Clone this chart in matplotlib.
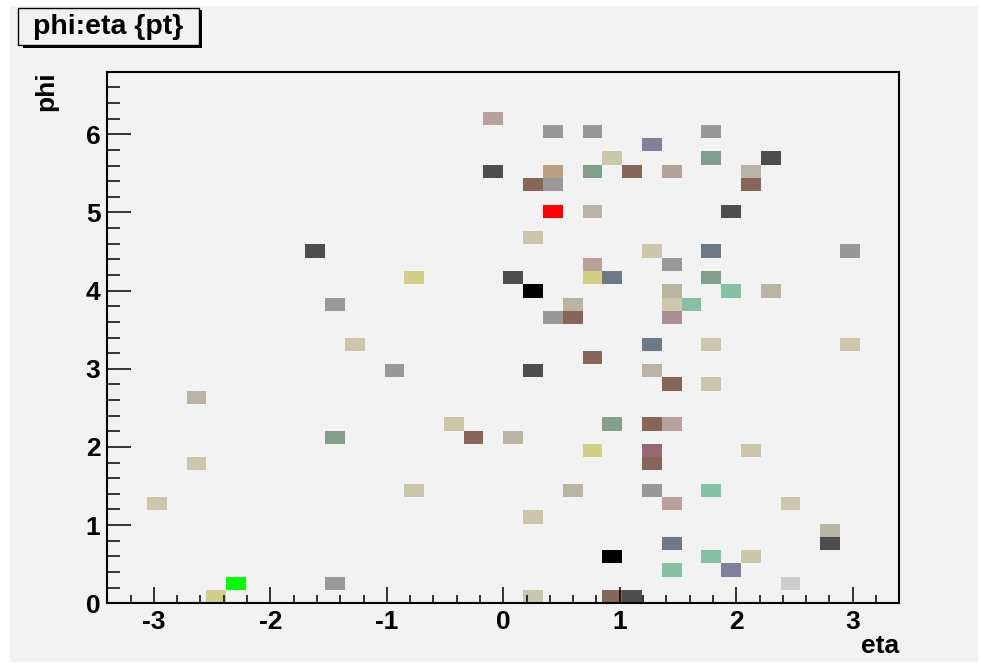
"""
phi:eta {pt} 2D histogram (ROOT COL style) redrawn with matplotlib.
"""

import numpy as np
import matplotlib

matplotlib.use("Agg")
import matplotlib.pyplot as plt
from matplotlib.colors import ListedColormap, BoundaryNorm
from matplotlib.patches import Rectangle
from matplotlib.ticker import MultipleLocator

# Binning of the histogram
ETA_RANGE = (-3.4, 3.4)
PHI_RANGE = (0.0, 6.8)
N_BINS = 40

# Filled cells: eta, phi (bin centres) and the colour of each cell
eta = [
    -0.085,
    0.425, 0.765, 1.785,
    1.275,
    0.935, 1.785, 2.295,
    -0.085, 0.425, 0.765, 1.105, 1.445, 2.125,
    0.255, 0.425, 2.125,
    0.425, 0.765, 1.955,
    0.255,
    -1.615, 1.275, 1.785, 2.975,
    0.765, 1.445,
    -0.765, 0.085, 0.765, 0.935, 1.785,
    0.255, 1.445, 1.955, 2.295,
    -1.445, 0.595, 1.445, 1.615,
    0.425, 0.595, 1.445,
    -1.275, 1.275, 1.785, 2.975,
    0.765,
    -0.935, 0.255, 1.275,
    1.445, 1.785,
    -2.635,
    -0.425, 0.935, 1.275, 1.445,
    -1.445, -0.255, 0.085,
    0.765, 1.275, 2.125,
    -2.635, 1.275,
    -0.765, 0.595, 1.275, 1.785,
    -2.975, 1.445, 2.465,
    0.255,
    2.805,
    1.445, 2.805,
    0.935, 1.785, 2.125,
    1.445, 1.955,
    -2.295, -1.445, 2.465,
    -2.465, 0.255, 0.935, 1.105,
]
phi = [
    6.205,
    6.035, 6.035, 6.035,
    5.865,
    5.695, 5.695, 5.695,
    5.525, 5.525, 5.525, 5.525, 5.525, 5.525,
    5.355, 5.355, 5.355,
    5.015, 5.015, 5.015,
    4.675,
    4.505, 4.505, 4.505, 4.505,
    4.335, 4.335,
    4.165, 4.165, 4.165, 4.165, 4.165,
    3.995, 3.995, 3.995, 3.995,
    3.825, 3.825, 3.825, 3.825,
    3.655, 3.655, 3.655,
    3.315, 3.315, 3.315, 3.315,
    3.145,
    2.975, 2.975, 2.975,
    2.805, 2.805,
    2.635,
    2.295, 2.295, 2.295, 2.295,
    2.125, 2.125, 2.125,
    1.955, 1.955, 1.955,
    1.785, 1.785,
    1.445, 1.445, 1.445, 1.445,
    1.275, 1.275, 1.275,
    1.105,
    0.935,
    0.765, 0.765,
    0.595, 0.595, 0.595,
    0.425, 0.425,
    0.255, 0.255, 0.255,
    0.085, 0.085, 0.085, 0.085,
]
cell_colors = [
    "#b8a39c",
    "#999999", "#999999", "#999999",
    "#80809c",
    "#ccc7ab", "#829e8c", "#4d4d4d",
    "#4d4d4d", "#bd9e82", "#829e8c", "#876657", "#b8a39c", "#bab5a3",
    "#876657", "#999999", "#876657",
    "#ff0000", "#bab5a3", "#4d4d4d",
    "#ccc7ab",
    "#4d4d4d", "#ccc7ab", "#6c7a86", "#999999",
    "#b8a39c", "#999999",
    "#d4cf87", "#4d4d4d", "#d4cf87", "#6c7a86", "#829e8c",
    "#000000", "#bab5a3", "#85c2a3", "#bab5a3",
    "#999999", "#bab5a3", "#ccc7ab", "#85c2a3",
    "#999999", "#876657", "#ab8f94",
    "#ccc7ab", "#6c7a86", "#ccc7ab", "#ccc7ab",
    "#876657",
    "#999999", "#4d4d4d", "#bab5a3",
    "#876657", "#ccc7ab",
    "#bab5a3",
    "#ccc7ab", "#829e8c", "#876657", "#b8a39c",
    "#829e8c", "#876657", "#bab5a3",
    "#d4cf87", "#94696f", "#ccc7ab",
    "#ccc7ab", "#876657",
    "#ccc7ab", "#bab5a3", "#999999", "#85c2a3",
    "#ccc7ab", "#b8a39c", "#ccc7ab",
    "#ccc7ab",
    "#bab5a3",
    "#6c7a86", "#4d4d4d",
    "#000000", "#85c2a3", "#ccc7ab",
    "#85c2a3", "#80809c",
    "#00ff00", "#999999", "#cccccc",
    "#d4cf87", "#ccc7ab", "#876657", "#4d4d4d",
]

TITLE = "phi:eta {pt}"
X_LABEL = "eta"
Y_LABEL = "phi"

BG = "#f2f2f2"
W, H = 981, 665


def fig_xy(px, py):
    """Pixel position (from top-left) -> figure fraction."""
    return px / W, 1 - py / H


plt.rcParams["font.family"] = ["Liberation Sans", "DejaVu Sans"]
plt.rcParams["axes.unicode_minus"] = False
fig = plt.figure(figsize=(W / 100, H / 100), dpi=100, facecolor="white")

# Canvas background (behind everything)
x0, y0 = fig_xy(10, 662)
fig.patches.append(
    Rectangle((x0, y0), 968 / W, 656 / H, transform=fig.transFigure,
              facecolor=BG, edgecolor="none", zorder=-10)
)

# Plot frame
left, right, top, bottom = 107.3, 899.3, 71.7, 603.3
ax = fig.add_axes([left / W, 1 - bottom / H, (right - left) / W, (bottom - top) / H])
ax.set_facecolor(BG)

# Build the 2D histogram from the entries; cell value = colour code
palette = list(dict.fromkeys(cell_colors))
codes = np.array([palette.index(c) + 1 for c in cell_colors], dtype=float)
xedges = np.linspace(*ETA_RANGE, N_BINS + 1)
yedges = np.linspace(*PHI_RANGE, N_BINS + 1)
grid, _, _ = np.histogram2d(eta, phi, bins=[xedges, yedges], weights=codes)
grid = np.ma.masked_equal(grid, 0)

cmap = ListedColormap(palette)
norm = BoundaryNorm(np.arange(0.5, len(palette) + 1.5), cmap.N)
ax.pcolormesh(xedges, yedges, grid.T, cmap=cmap, norm=norm, shading="flat")

ax.set_xlim(*ETA_RANGE)
ax.set_ylim(*PHI_RANGE)

# ROOT-like axes: inward ticks, bold labels
ax.xaxis.set_major_locator(MultipleLocator(1))
ax.xaxis.set_minor_locator(MultipleLocator(0.2))
ax.yaxis.set_major_locator(MultipleLocator(1))
ax.yaxis.set_minor_locator(MultipleLocator(0.2))
ax.tick_params(axis="x", which="major", direction="in", length=11.5, width=1.1,
               labelsize=19, pad=5)
ax.tick_params(axis="x", which="minor", direction="in", length=5.8, width=1.1)
ax.tick_params(axis="y", which="major", direction="in", length=17, width=1.1,
               labelsize=19, pad=5)
ax.tick_params(axis="y", which="minor", direction="in", length=9, width=1.1)
for lab in ax.get_xticklabels() + ax.get_yticklabels():
    lab.set_fontweight("bold")
for sp in ax.spines.values():
    sp.set_linewidth(1.5)

ax.set_xlabel(X_LABEL, fontsize=19, fontweight="bold", loc="right", labelpad=0)
ax.set_ylabel(Y_LABEL, fontsize=19, fontweight="bold", loc="top", labelpad=20)

# Title box with shadow
sx, sy = fig_xy(23, 48.3)
fig.patches.append(
    Rectangle((sx, sy), 179 / W, 38 / H, transform=fig.transFigure,
              facecolor="black", edgecolor="none", zorder=1)
)
bx, by = fig_xy(18.3, 45)
fig.patches.append(
    Rectangle((bx, by), 180.7 / W, 36.7 / H, transform=fig.transFigure,
              facecolor=BG, edgecolor="black", linewidth=1, zorder=2)
)
tx, ty = fig_xy(108.5, 27)
fig.text(tx, ty, TITLE, ha="center", va="center", fontsize=20.5,
         fontweight="bold", zorder=3)

fig.savefig("out.png", dpi=100, facecolor=fig.get_facecolor())
